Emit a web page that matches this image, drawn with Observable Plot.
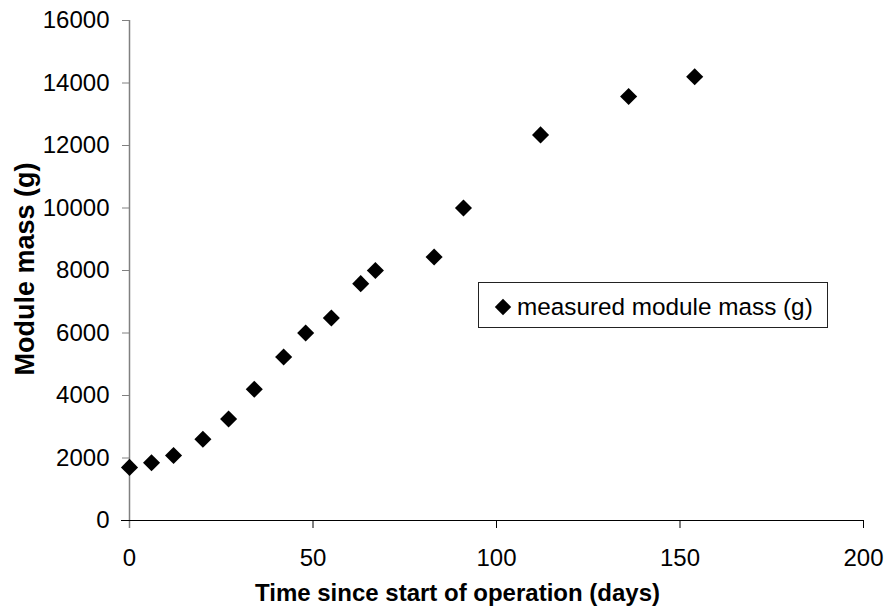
<!DOCTYPE html>
<html><head><meta charset="utf-8">
<script src="https://cdn.jsdelivr.net/npm/d3@7"></script>
<script src="https://cdn.jsdelivr.net/npm/@observablehq/plot@0.6"></script>
<style>
html,body{margin:0;padding:0;background:#fff;}
#wrap{position:relative;width:891px;height:613px;font-family:"Liberation Sans",Arial,sans-serif;}
#wrap svg{display:block;}
#legend{position:absolute;left:478px;top:282px;width:350px;height:46px;box-sizing:border-box;border:1px solid #222;background:#fff;}
#legend svg{position:absolute;left:15px;top:15px;}
#legend span{position:absolute;left:38px;top:10px;font-size:24.3px;line-height:28px;color:#000;white-space:nowrap;}
</style></head><body><div id="wrap"></div>
<script>
const days = [0, 6, 12, 20, 27, 34, 42, 48, 55, 63, 67, 83, 91, 112, 136, 154];
const mass = [1700, 1850, 2080, 2600, 3250, 4200, 5230, 6000, 6480, 7580, 8000, 8430, 10000, 12340, 13570, 14200];
const xTicks = [0, 50, 100, 150, 200];
const yTicks = [0, 2000, 4000, 6000, 8000, 10000, 12000, 14000, 16000];
const seriesName = "measured module mass (g)";
const xTitle = "Time since start of operation (days)";
const yTitle = "Module mass (g)";

const data = days.map((d, i) => ({days: d, mass: mass[i]}));
const font = '"Liberation Sans", Arial, sans-serif';

const chart = Plot.plot({
  width: 891, height: 613,
  marginLeft: 129, marginRight: 28, marginTop: 20, marginBottom: 93,
  style: {fontFamily: font, fontSize: "24px", color: "#000", background: "#fff", overflow: "visible"},
  x: {domain: [0, 200]},
  y: {domain: [0, 16000]},
  marks: [
    Plot.axisY({ticks: yTicks, tickFormat: d => String(d), tickSize: 7, tickPadding: 13, stroke: "#808080", fill: "#000", fontSize: 24, label: null}),
    Plot.axisX({ticks: xTicks, tickFormat: d => String(d), tickSize: 8, tickPadding: 20, stroke: "#000", fill: "#000", fontSize: 24, label: null}),
    Plot.ruleX([0], {stroke: "#808080", strokeWidth: 1.5, insetBottom: -8}),
    Plot.ruleY([0], {stroke: "#000", strokeWidth: 1, insetLeft: -8}),
    Plot.dot(data, {x: "days", y: "mass", symbol: "diamond2", r: 7.7, fill: "#000", stroke: "none"}),
    Plot.text([xTitle], {frameAnchor: "bottom", dx: -39, dy: 80, lineAnchor: "bottom", textAnchor: "middle", fontSize: 24, fontWeight: "bold", fill: "#000"}),
    Plot.text([yTitle], {frameAnchor: "left", dx: -96, dy: -1.5, rotate: -90, lineAnchor: "bottom", textAnchor: "middle", fontSize: 27, fontWeight: "bold", fill: "#000"})
  ]
});

const wrap = document.getElementById("wrap");
wrap.appendChild(chart);
const legend = document.createElement("div");
legend.id = "legend";
legend.innerHTML = '<svg width="18" height="18" viewBox="-9 -9 18 18"><path d="M0,-8.2L8.2,0L0,8.2L-8.2,0Z" fill="#000"/></svg><span></span>';
legend.querySelector("span").textContent = seriesName;
wrap.appendChild(legend);
</script>
</body></html>
